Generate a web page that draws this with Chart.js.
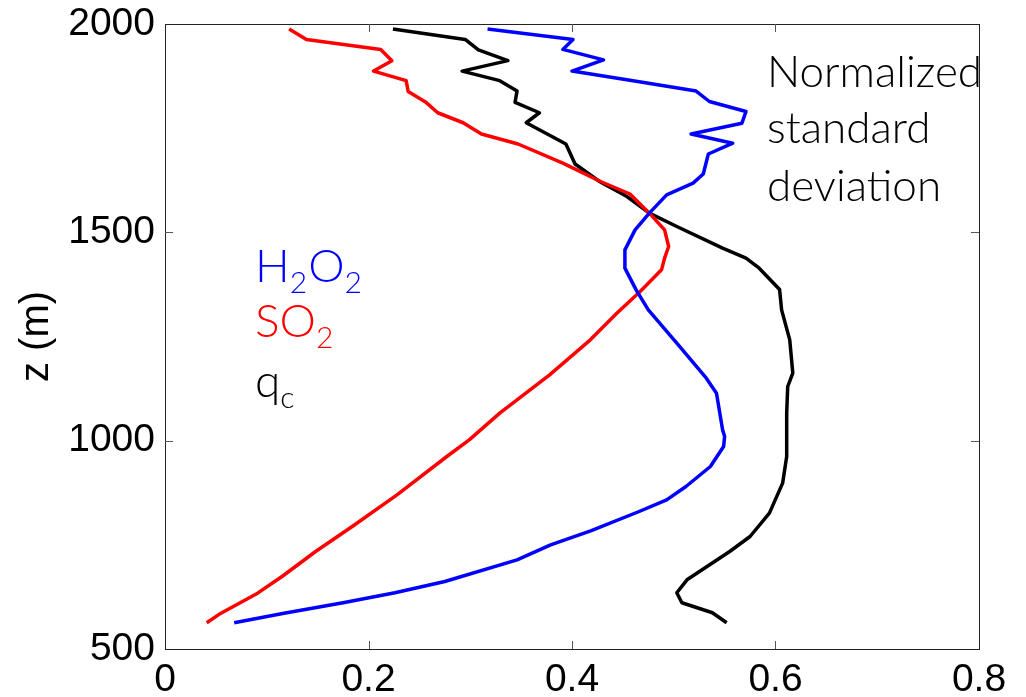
<!DOCTYPE html>
<html>
<head>
<meta charset="utf-8">
<script src="https://cdn.jsdelivr.net/npm/chart.js@4"></script>
<style>
  body { margin: 0; background: #fff; }
  #wrap { width: 1026px; height: 697px; }
</style>
</head>
<body>
<div id="wrap"><canvas id="profile" width="1026" height="697"></canvas></div>
<script>
// normalized standard deviation vs height z (m)
const h2o2Z = [1988, 1963, 1939, 1914, 1887, 1864, 1839, 1814, 1790, 1762, 1736, 1714, 1688, 1640, 1618, 1590, 1546, 1506, 1458, 1414, 1362, 1314, 1234, 1150, 1114, 1026, 1010, 986, 938, 890, 858, 830, 784, 750, 714, 662, 635, 611, 586, 563];
const h2o2X = [0.317, 0.401, 0.391, 0.431, 0.400, 0.460, 0.522, 0.535, 0.571, 0.567, 0.517, 0.558, 0.534, 0.529, 0.519, 0.493, 0.476, 0.462, 0.452, 0.452, 0.463, 0.475, 0.503, 0.532, 0.542, 0.548, 0.550, 0.549, 0.536, 0.512, 0.493, 0.466, 0.419, 0.379, 0.346, 0.275, 0.226, 0.175, 0.117, 0.068];

const so2Z = [1988, 1963, 1939, 1912, 1887, 1864, 1838, 1813, 1787, 1763, 1736, 1712, 1666, 1622, 1592, 1546, 1506, 1466, 1438, 1410, 1358, 1306, 1242, 1158, 1066, 1002, 962, 870, 794, 734, 674, 634, 586, 563];
const so2X = [0.122, 0.139, 0.212, 0.223, 0.205, 0.237, 0.239, 0.256, 0.268, 0.293, 0.311, 0.347, 0.391, 0.428, 0.457, 0.476, 0.491, 0.495, 0.491, 0.488, 0.467, 0.444, 0.418, 0.378, 0.329, 0.299, 0.277, 0.228, 0.184, 0.148, 0.115, 0.091, 0.055, 0.041];

const qcZ = [1988, 1963, 1938, 1912, 1887, 1864, 1839, 1812, 1787, 1763, 1712, 1664, 1622, 1586, 1546, 1514, 1462, 1438, 1414, 1363, 1314, 1242, 1162, 1130, 1066, 1026, 962, 898, 826, 770, 734, 666, 635, 611, 587, 563];
const qcX = [0.224, 0.295, 0.308, 0.337, 0.292, 0.329, 0.346, 0.344, 0.368, 0.355, 0.394, 0.403, 0.427, 0.454, 0.476, 0.503, 0.548, 0.571, 0.584, 0.604, 0.606, 0.614, 0.617, 0.612, 0.611, 0.611, 0.611, 0.607, 0.594, 0.575, 0.555, 0.513, 0.503, 0.508, 0.538, 0.552];

const xTicks = [0, 0.2, 0.4, 0.6, 0.8];
const zTicks = [500, 1000, 1500, 2000];
const noteLines = ['Normalized', 'standard', 'deviation'];

const toPoints = (xs, zs) => xs.map((x, i) => ({ x: x, y: zs[i] }));

const textFont = '"Lato", "Noto Sans", sans-serif';
const axisFont = '"Liberation Sans", Arial, Helvetica, sans-serif';

// box frame + inward tick marks, like the matlab axes
const framePlugin = {
  id: 'frame',
  afterDraw(chart) {
    const ctx = chart.ctx;
    const a = chart.chartArea;
    const xs = chart.scales.x, ys = chart.scales.y;
    ctx.save();
    ctx.strokeStyle = '#222';
    ctx.lineWidth = 1;
    ctx.strokeRect(a.left + 0.5, a.top + 0.5, a.right - a.left, a.bottom - a.top);
    ctx.strokeStyle = '#555';
    ctx.beginPath();
    xs.ticks.forEach(t => {
      if (t.value <= xs.min || t.value >= xs.max) return;
      const px = Math.round(xs.getPixelForValue(t.value)) + 0.5;
      ctx.moveTo(px, a.bottom); ctx.lineTo(px, a.bottom - 8);
      ctx.moveTo(px, a.top); ctx.lineTo(px, a.top + 8);
    });
    ys.ticks.forEach(t => {
      if (t.value <= ys.min || t.value >= ys.max) return;
      const py = Math.round(ys.getPixelForValue(t.value)) + 0.5;
      ctx.moveTo(a.left, py); ctx.lineTo(a.left + 8, py);
      ctx.moveTo(a.right, py); ctx.lineTo(a.right - 8, py);
    });
    ctx.stroke();
    ctx.restore();
  }
};

// chemical labels with subscripts and the note text
function drawLabel(ctx, parts, x, y, color) {
  ctx.fillStyle = color;
  let cx = x;
  parts.forEach(p => {
    ctx.font = (p.sub ? '300 30px ' : '300 46px ') + textFont;
    ctx.fillText(p.t, cx, p.sub ? y + 11 : y);
    cx += ctx.measureText(p.t).width + (p.sub ? 1 : 0);
  });
}

const textPlugin = {
  id: 'texts',
  afterDraw(chart) {
    const ctx = chart.ctx;
    ctx.save();
    ctx.textBaseline = 'alphabetic';
    ctx.textAlign = 'left';
    drawLabel(ctx, [{t: 'H'}, {t: '2', sub: true}, {t: 'O'}, {t: '2', sub: true}], 255, 282, '#0000ff');
    drawLabel(ctx, [{t: 'SO'}, {t: '2', sub: true}], 255, 337, '#ff0000');
    drawLabel(ctx, [{t: 'q'}, {t: 'c', sub: true}], 255, 397, '#000000');
    ctx.fillStyle = '#000';
    ctx.font = '300 44px ' + textFont;
    const base = [87, 143, 201];
    noteLines.forEach((s, i) => ctx.fillText(s, 767, base[i]));
    ctx.restore();
  }
};

const lineStyle = { showLine: true, pointRadius: 0, borderWidth: 3.5, fill: false, tension: 0, borderJoinStyle: 'round' };

new Chart(document.getElementById('profile').getContext('2d'), {
  type: 'scatter',
  data: {
    datasets: [
      Object.assign({ label: 'H2O2', data: toPoints(h2o2X, h2o2Z), borderColor: '#0000ff' }, lineStyle),
      Object.assign({ label: 'SO2', data: toPoints(so2X, so2Z), borderColor: '#ff0000' }, lineStyle),
      Object.assign({ label: 'qc', data: toPoints(qcX, qcZ), borderColor: '#000000', borderWidth: 3 }, lineStyle),
    ]
  },
  options: {
    responsive: false,
    animation: false,
    layout: { padding: { top: 24, right: 47, left: 0, bottom: 0 } },
    plugins: { legend: { display: false }, tooltip: { enabled: false } },
    scales: {
      x: {
        type: 'linear',
        min: 0, max: 0.8,
        afterBuildTicks: s => { s.ticks = xTicks.map(v => ({ value: v })); },
        afterFit: s => { s.height = 48; s.paddingLeft = 0; s.paddingRight = 0; },
        grid: { display: false, drawTicks: false },
        border: { display: false },
        ticks: {
          color: '#000',
          padding: 8,
          maxRotation: 0,
          font: { family: axisFont, size: 39 },
          callback: v => String(v)
        }
      },
      y: {
        type: 'linear',
        min: 500, max: 2000,
        afterBuildTicks: s => { s.ticks = zTicks.map(v => ({ value: v })); },
        afterFit: s => { s.width = 165; s.paddingTop = 0; s.paddingBottom = 0; },
        grid: { display: false, drawTicks: false },
        border: { display: false },
        title: {
          display: true,
          text: 'z (m)',
          color: '#000',
          padding: { top: 13, bottom: 0 },
          font: { family: axisFont, size: 40 }
        },
        ticks: {
          color: '#000',
          padding: 10,
          font: { family: axisFont, size: 39 },
          callback: v => String(v)
        }
      }
    }
  },
  plugins: [framePlugin, textPlugin]
});
</script>
</body>
</html>
